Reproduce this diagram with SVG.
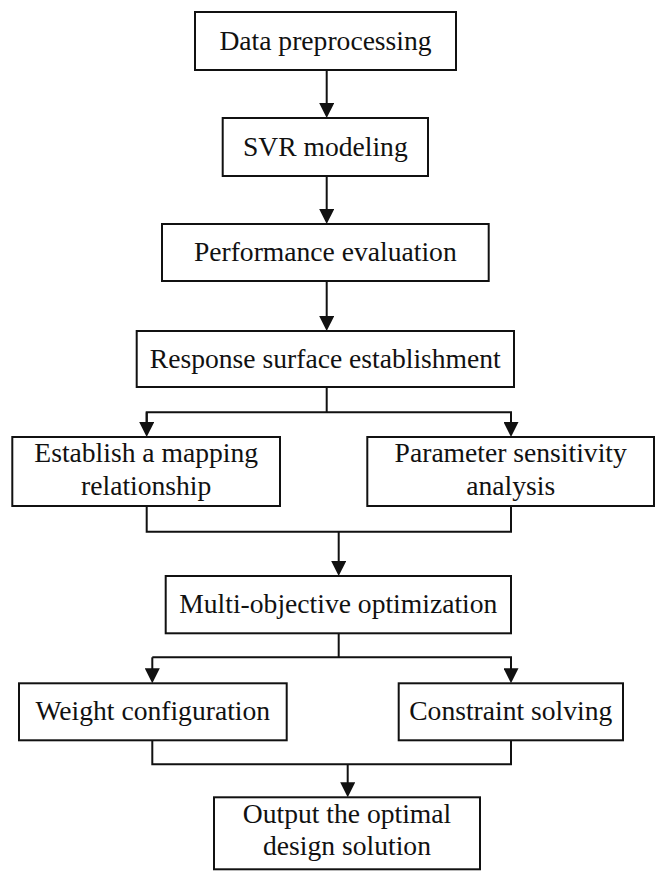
<svg xmlns="http://www.w3.org/2000/svg" width="665" height="881" viewBox="0 0 665 881">
  <style>
    .box { fill: #ffffff; stroke: #111111; stroke-width: 2; }
    .lbl { font-family: "Liberation Serif", "Times New Roman", serif; font-size: 27.6px; fill: #111111; text-anchor: middle; }
    .conn { fill: none; stroke: #111111; stroke-width: 2; }
  </style>
  <defs>
    <marker id="arrow" viewBox="0 0 15 15" refX="12" refY="7.5" markerWidth="15" markerHeight="15" markerUnits="userSpaceOnUse" orient="auto">
      <path d="M0,0 L15,7.5 L0,15 Z" fill="#111111"/>
    </marker>
  </defs>
  <rect width="665" height="881" fill="#ffffff"/>

  <g id="connectors">
    <path class="conn" d="M326.7,70 V115" marker-end="url(#arrow)"/>
    <path class="conn" d="M326.7,176 V221" marker-end="url(#arrow)"/>
    <path class="conn" d="M326.7,281 V328" marker-end="url(#arrow)"/>
    <path class="conn" d="M326.7,387 V412.3"/>
    <path class="conn" d="M146.7,434 V412.3 H511 V434" marker-end="url(#arrow)"/>
    <path class="conn" d="M146.7,412.3 V434" marker-end="url(#arrow)"/>
    <path class="conn" d="M146.7,506 V531.7 H511 V506"/>
    <path class="conn" d="M338.7,531.7 V573" marker-end="url(#arrow)"/>
    <path class="conn" d="M338.7,633.3 V657.3"/>
    <path class="conn" d="M152.3,657.3 H511 V680.3" marker-end="url(#arrow)"/>
    <path class="conn" d="M152.3,657.3 V680.3" marker-end="url(#arrow)"/>
    <path class="conn" d="M152.3,740.3 V764.3 H511 V740.3"/>
    <path class="conn" d="M347.7,764.3 V794.3" marker-end="url(#arrow)"/>
  </g>

  <g id="n1">
    <rect class="box" x="195" y="12" width="261" height="58"/>
    <text class="lbl" x="325.5" y="50">Data preprocessing</text>
  </g>
  <g id="n2">
    <rect class="box" x="222.7" y="118" width="205.3" height="58"/>
    <text class="lbl" x="325.3" y="156">SVR modeling</text>
  </g>
  <g id="n3">
    <rect class="box" x="162" y="224" width="326.7" height="57"/>
    <text class="lbl" x="325.3" y="261">Performance evaluation</text>
  </g>
  <g id="n4">
    <rect class="box" x="136.7" y="331" width="377.3" height="56"/>
    <text class="lbl" x="325.3" y="368">Response surface establishment</text>
  </g>
  <g id="n5">
    <rect class="box" x="12.3" y="437" width="267.7" height="69"/>
    <text class="lbl" x="146.2" y="462">Establish a mapping</text>
    <text class="lbl" x="146.2" y="495">relationship</text>
  </g>
  <g id="n6">
    <rect class="box" x="367.3" y="437" width="286.7" height="69"/>
    <text class="lbl" x="510.7" y="462">Parameter sensitivity</text>
    <text class="lbl" x="510.7" y="495">analysis</text>
  </g>
  <g id="n7">
    <rect class="box" x="165.7" y="576" width="345.3" height="57.3"/>
    <text class="lbl" x="338.3" y="613">Multi-objective optimization</text>
  </g>
  <g id="n8">
    <rect class="box" x="19" y="683.3" width="267.7" height="57"/>
    <text class="lbl" x="152.8" y="720">Weight configuration</text>
  </g>
  <g id="n9">
    <rect class="box" x="398.7" y="683.3" width="224.3" height="57"/>
    <text class="lbl" x="510.8" y="720">Constraint solving</text>
  </g>
  <g id="n10">
    <rect class="box" x="214" y="797.3" width="266" height="72"/>
    <text class="lbl" x="347" y="823">Output the optimal</text>
    <text class="lbl" x="347" y="855">design solution</text>
  </g>
</svg>
